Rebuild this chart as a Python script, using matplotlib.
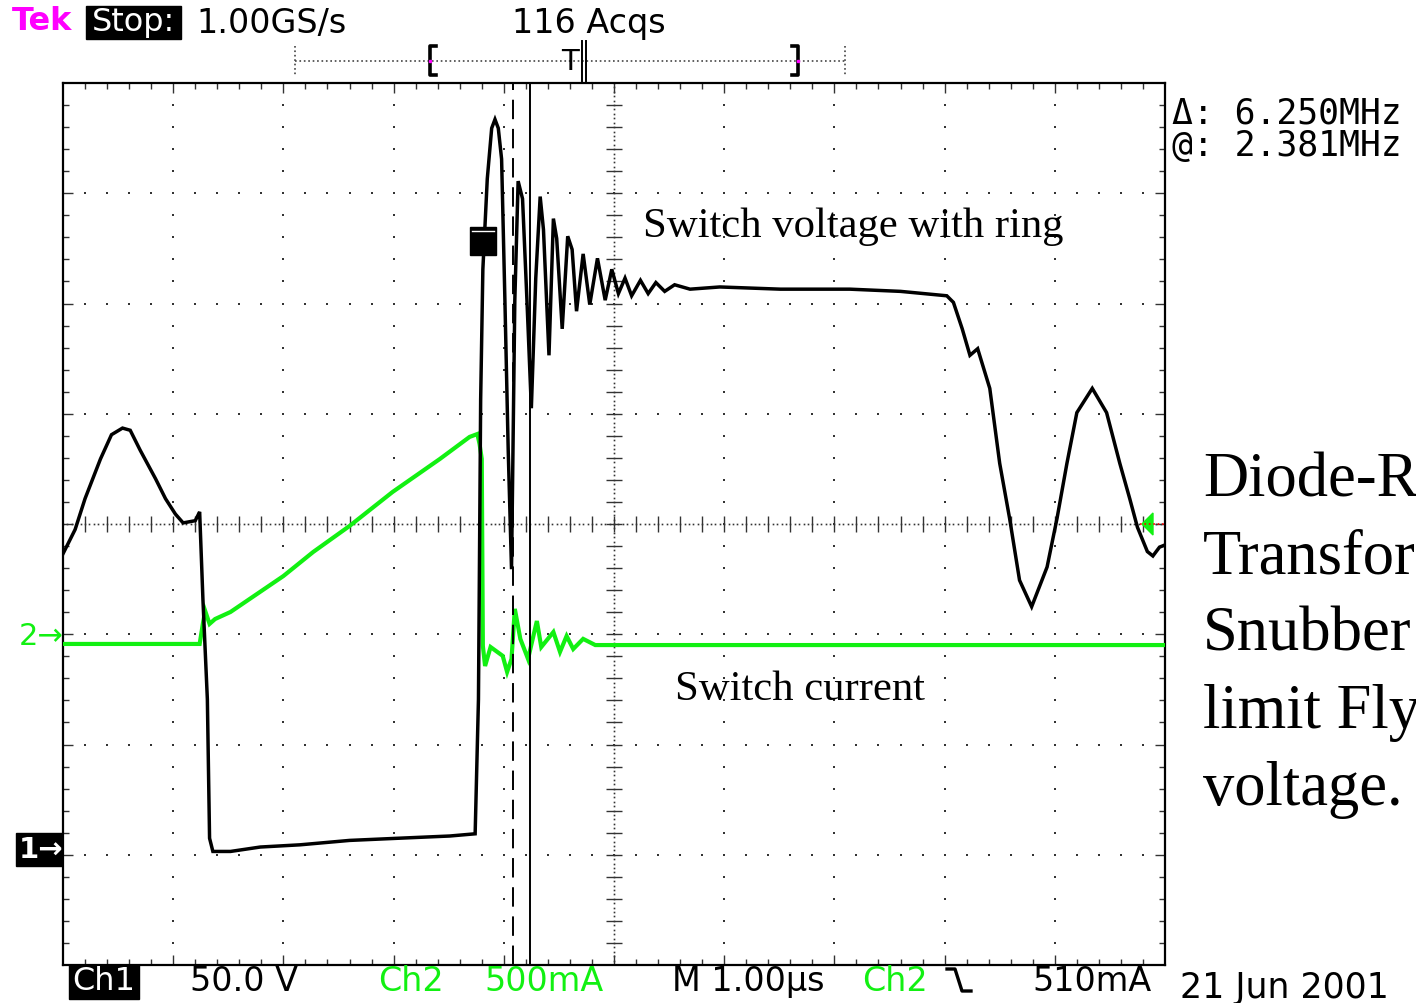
import numpy as np
import matplotlib
matplotlib.use("Agg")
import matplotlib.pyplot as plt
from matplotlib.patches import Rectangle, Polygon
from matplotlib.collections import LineCollection

W, H = 1416, 1004

# ---------------- data ----------------
# time in microseconds relative to screen centre (1 us/div)
ch1_t = [-5.00, -4.89, -4.80, -4.66, -4.56, -4.46, -4.39, -4.30, -4.16, -4.07,
         -3.98, -3.91, -3.80, -3.77, -3.76, -3.73, -3.69, -3.67, -3.64, -3.48,
         -3.21, -2.85, -2.40, -1.95, -1.49, -1.26, -1.23, -1.21, -1.19, -1.15,
         -1.11, -1.08, -1.05, -1.02, -0.99, -0.96, -0.93, -0.90, -0.87, -0.83,
         -0.79, -0.75, -0.71, -0.67, -0.64, -0.59, -0.55, -0.52, -0.47, -0.42,
         -0.38, -0.34, -0.28, -0.22, -0.15, -0.08, -0.02, 0.04, 0.10, 0.16,
         0.24, 0.31, 0.38, 0.46, 0.55, 0.69, 0.96, 1.51, 2.14, 2.60,
         3.02, 3.08, 3.16, 3.23, 3.30, 3.41, 3.50, 3.59, 3.68, 3.79,
         3.93, 4.02, 4.11, 4.20, 4.34, 4.47, 4.59, 4.68, 4.75, 4.84,
         4.89, 4.95, 5.00]
# switch voltage, volts (50 V/div)
ch1_v = [134, 145, 159, 177, 188, 191, 190, 181, 168, 159,
         152, 148, 149, 152, 153, 113, 68, 5, -1, -1,
         1, 2, 4, 5, 6, 7, 68, 204, 263, 304,
         327, 331, 327, 313, 249, 181, 127, 249, 303, 295,
         249, 200, 259, 296, 281, 224, 286, 277, 236, 278,
         272, 244, 270, 247, 268, 249, 263, 252, 259, 251,
         258, 252, 257, 253, 256, 254, 255, 254, 254, 253,
         251, 248, 236, 224, 227, 209, 175, 150, 122, 110,
         128, 150, 175, 198, 209, 198, 175, 159, 146, 135,
         133, 137, 138]

ch2_t = [-5.00, -3.76, -3.73, -3.71, -3.67, -3.62, -3.48, -3.00, -2.73, -2.40,
         -2.01, -1.58, -1.31, -1.24, -1.22, -1.20, -1.19, -1.17, -1.12, -1.01,
         -0.97, -0.93, -0.90, -0.85, -0.78, -0.70, -0.66, -0.55, -0.49, -0.43,
         -0.37, -0.28, -0.17, 5.00]
# switch current, mA (500 mA/div)
ch2_i = [-34, -34, 60, 116, 57, 79, 111, 274, 383, 501,
         655, 805, 905, 918, 873, 805, -43, -134, -48, -88,
         -161, -102, 125, -11, -102, 70, -48, 20, -70, 2,
         -57, -11, -39, -39]

volts_per_div = 50.0
ma_per_div = 500.0
ch1_ground_div = 1.05
ch2_ground_div = 2.98
cursor_dashed_t = -0.917
cursor_solid_t = -0.762

GREEN = "#12f012"
MAGENTA = "#ff00ff"

# ---------------- figure ----------------
fig = plt.figure(figsize=(W / 100, H / 100), dpi=100)
fig.patch.set_facecolor("white")

rect = [63 / W, 1 - 966 / H, 1102 / W, 882 / H]

# graticule axes in division units
g = fig.add_axes(rect)
g.set_xlim(0, 10)
g.set_ylim(0, 8)
g.set_xticks([])
g.set_yticks([])
for s in g.spines.values():
    s.set_linewidth(1.6)
    s.set_color("black")

dot = dict(ls="none", marker="s", ms=1.5, color="#333333", mew=0)
for k in range(1, 10):
    if k == 5:
        continue
    ys = np.arange(0, 8.001, 0.2)
    g.plot(np.full_like(ys, k), ys, **dot)
for j in range(1, 8):
    if j == 4:
        continue
    xs = np.arange(0, 10.001, 0.2)
    g.plot(xs, np.full_like(xs, j), **dot)
# centre crosshair
ys = np.arange(0, 8.001, 0.04)
g.plot(np.full_like(ys, 5), ys, ls="none", marker="s", ms=1.2, color="#333333", mew=0)
xs = np.arange(0, 10.001, 0.04)
g.plot(xs, np.full_like(xs, 4), ls="none", marker="s", ms=1.2, color="#333333", mew=0)
segs = []
for y in np.arange(0.2, 8.0, 0.2):
    segs.append([(4.93, y), (5.07, y)])
for x in np.arange(0.2, 10.0, 0.2):
    segs.append([(x, 3.93), (x, 4.07)])
# edge ticks
for x in np.arange(0.2, 10.0, 0.2):
    L = 0.09 if abs(x - round(x)) < 1e-6 else 0.055
    segs.append([(x, 8), (x, 8 - L)])
    segs.append([(x, 0), (x, L)])
for y in np.arange(0.2, 8.0, 0.2):
    L = 0.09 if abs(y - round(y)) < 1e-6 else 0.055
    segs.append([(0, y), (L, y)])
    segs.append([(10, y), (10 - L, y)])
g.add_collection(LineCollection(segs, colors="#333333", linewidths=1.0))

# current axis
ai = fig.add_axes(rect, frameon=False)
ai.set_xlim(-5, 5)
ai.set_ylim(-ch2_ground_div * ma_per_div, (8 - ch2_ground_div) * ma_per_div)
ai.axis("off")
ai.plot(ch2_t, ch2_i, color=GREEN, lw=3.0, solid_joinstyle="miter")

# voltage axis
av = fig.add_axes(rect, frameon=False)
av.set_xlim(-5, 5)
av.set_ylim(-ch1_ground_div * volts_per_div, (8 - ch1_ground_div) * volts_per_div)
av.axis("off")
av.plot(ch1_t, ch1_v, color="black", lw=2.5, solid_joinstyle="miter")
av.axvline(cursor_solid_t, color="black", lw=1.4)
lw_d = 1.4
av.axvline(cursor_dashed_t, color="black", lw=lw_d, dashes=(14 / lw_d, 7 / lw_d))

# ---------------- overlay in pixel coordinates ----------------
o = fig.add_axes([0, 0, 1, 1], frameon=False)
o.set_xlim(0, W)
o.set_ylim(H, 0)
o.axis("off")
o.patch.set_alpha(0)

mono = ["DejaVu Sans Mono"]
sans = ["DejaVu Sans"]
serif = ["Liberation Serif", "DejaVu Serif"]

# header
o.text(12, 22, "Tek", color=MAGENTA, fontsize=23, fontweight="bold", family=sans, va="center")
o.add_patch(Rectangle((86, 7), 95, 33, color="black"))
o.text(133, 23, "Stop:", color="white", fontsize=23, family=sans, va="center", ha="center")
o.text(196, 23, "1.00GS/s", color="black", fontsize=24, family=sans, va="center")
o.text(512, 23, "116 Acqs", color="black", fontsize=24, family=sans, va="center")

# record-length bar
o.plot([295, 845], [62, 62], color="#444444", lw=1.2, ls=":")
o.plot([295, 295], [47, 77], color="#444444", lw=1.2, ls=":")
o.plot([845, 845], [47, 77], color="#444444", lw=1.2, ls=":")
o.plot([436, 430, 430, 436], [47, 47, 76, 76], color="black", lw=2.6)
o.plot([792, 798, 798, 792], [47, 47, 76, 76], color="black", lw=2.6)
o.plot([430, 798], [62, 62], ls="none", marker="s", ms=2, color=MAGENTA)
o.text(570, 62, "T", color="black", fontsize=21, family=sans, va="center", ha="center")
o.plot([582, 582], [42, 82], color="black", lw=1.4)
o.plot([586, 586], [42, 82], color="black", lw=1.4)

# right readouts
o.text(1172, 113, "\u0394: 6.250MHz", fontsize=25, family=mono, va="center")
o.text(1172, 146, "@: 2.381MHz", fontsize=25, family=mono, va="center")

# cursor/marker square
o.add_patch(Rectangle((470, 228), 26, 28, color="black"))
o.plot([472, 494], [232, 232], color="white", lw=1)

# trigger level marker
o.add_patch(Polygon([(1142, 525), (1153, 514), (1153, 536)], closed=True, color=GREEN))
o.plot([1140, 1164], [525, 525], color="red", lw=1.2, ls=":")

# channel ground markers
o.text(19, 637, "2\u2192", color=GREEN, fontsize=22, family=sans, va="center")
o.add_patch(Rectangle((16, 834), 46, 33, color="black"))
o.text(19, 850, "1\u2192", color="white", fontsize=21, family=sans, va="center", fontweight="bold")

# bottom status line
o.add_patch(Rectangle((69, 966), 70, 34, color="black"))
o.text(104, 982, "Ch1", color="white", fontsize=23, family=sans, va="center", ha="center")
o.text(190, 982, "50.0 V", color="black", fontsize=24, family=sans, va="center")
o.text(378, 982, "Ch2", color=GREEN, fontsize=24, family=sans, va="center")
o.text(484, 982, "500mA", color=GREEN, fontsize=24, family=sans, va="center")
o.text(672, 982, "M 1.00\u00b5s", color="black", fontsize=24, family=sans, va="center")
o.text(862, 982, "Ch2", color=GREEN, fontsize=24, family=sans, va="center")
o.plot([947, 955, 962, 971], [970, 970, 992, 992], color="black", lw=2.4)
o.text(1032, 982, "510mA", color="black", fontsize=24, family=sans, va="center")
o.text(1180, 988, "21 Jun 2001", color="black", fontsize=25, family=sans, va="center")

# annotations
o.text(643, 237, "Switch voltage with ring", fontsize=30.7, family=serif, va="baseline")
o.text(675, 700, "Switch current", fontsize=30.7, family=serif, va="baseline")
big = ["Diode-R", "Transfor", "Snubber", "limit Fly", "voltage."]
for n, line in enumerate(big):
    o.text(1203, 497 + 77 * n, line, fontsize=45, family=serif, va="baseline", clip_on=False)

fig.savefig("out.png", dpi=100, facecolor="white")
